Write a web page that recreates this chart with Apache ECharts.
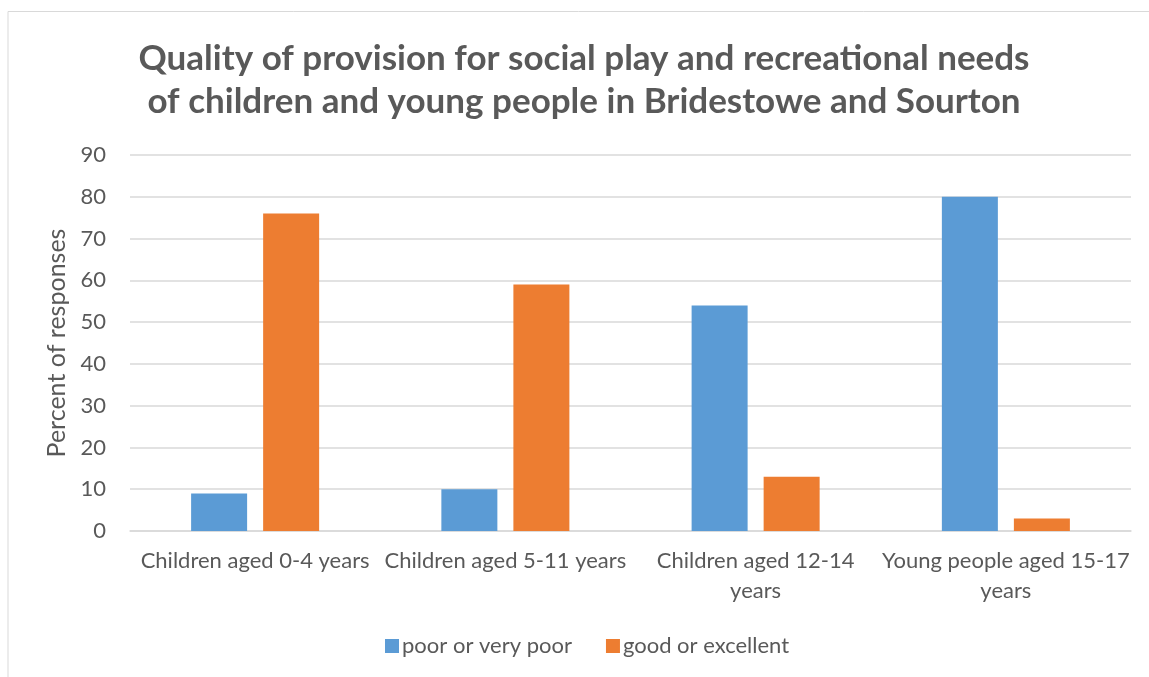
<!DOCTYPE html>
<html>
<head>
<meta charset="utf-8">
<script src="https://cdn.jsdelivr.net/npm/echarts@6/dist/echarts.min.js"></script>
<style>
  html, body { margin: 0; padding: 0; background: #fff; }
  #chart { width: 1149px; height: 677px; }
</style>
</head>
<body>
<div id="chart"></div>
<script>
// Survey results: share of responses per age group
const categories = [
  'Children aged 0-4 years',
  'Children aged 5-11 years',
  'Children aged 12-14\nyears',
  'Young people aged 15-17\nyears'
];
const poorValues = [9, 10, 54, 80];
const goodValues = [76, 59, 13, 3];
const seriesNames = ['poor or very poor', 'good or excellent'];
const yTicks = { min: 0, max: 90, interval: 10 };

const FONT = 'Lato';
const TEXT = '#595959';

const chart = echarts.init(document.getElementById('chart'), null, { renderer: 'canvas' });
chart.setOption({
  backgroundColor: '#fff',
  animation: false,
  color: ['#5b9bd5', '#ed7d31'],
  title: {
    text: 'Quality of provision for social play and recreational needs\nof children and young people in Bridestowe and Sourton',
    left: 579, top: 32, textAlign: 'center',
    textStyle: { fontFamily: FONT, fontWeight: 'bold', fontSize: 35, lineHeight: 43, color: TEXT }
  },
  graphic: [
    // outer chart frame
    { type: 'polyline', shape: { points: [[8, 677], [8, 11.5], [1149, 11.5]] },
      style: { stroke: '#d9d9d9', lineWidth: 1, fill: null }, silent: true }
  ],
  legend: {
    bottom: 15, left: 380, itemWidth: 14, itemHeight: 14, itemGap: 34,
    icon: 'rect',
    textStyle: { fontFamily: FONT, fontSize: 22, color: TEXT, padding: [0, 0, 0, -2] }
  },
  grid: { left: 130, right: 18, top: 155, bottom: 146, containLabel: false },
  xAxis: {
    type: 'category',
    data: categories,
    axisLine: { lineStyle: { color: '#d9d9d9', width: 1.5 } },
    axisTick: { show: false },
    axisLabel: { fontFamily: FONT, fontSize: 22, color: TEXT, margin: 15, lineHeight: 30, interval: 0 }
  },
  yAxis: {
    type: 'value',
    min: yTicks.min, max: yTicks.max, interval: yTicks.interval,
    name: 'Percent of responses',
    nameLocation: 'middle', nameGap: 59,
    nameTextStyle: { fontFamily: FONT, fontSize: 25, color: TEXT },
    axisLine: { show: false },
    axisTick: { show: false },
    axisLabel: { fontFamily: FONT, fontSize: 22, color: TEXT, margin: 24 },
    splitLine: { lineStyle: { color: '#d9d9d9', width: 1.5 } }
  },
  series: [
    { name: seriesNames[0], type: 'bar', data: poorValues, barWidth: 56, barGap: '28.6%' },
    { name: seriesNames[1], type: 'bar', data: goodValues, barWidth: 56, barGap: '28.6%' }
  ]
});
</script>
</body>
</html>
